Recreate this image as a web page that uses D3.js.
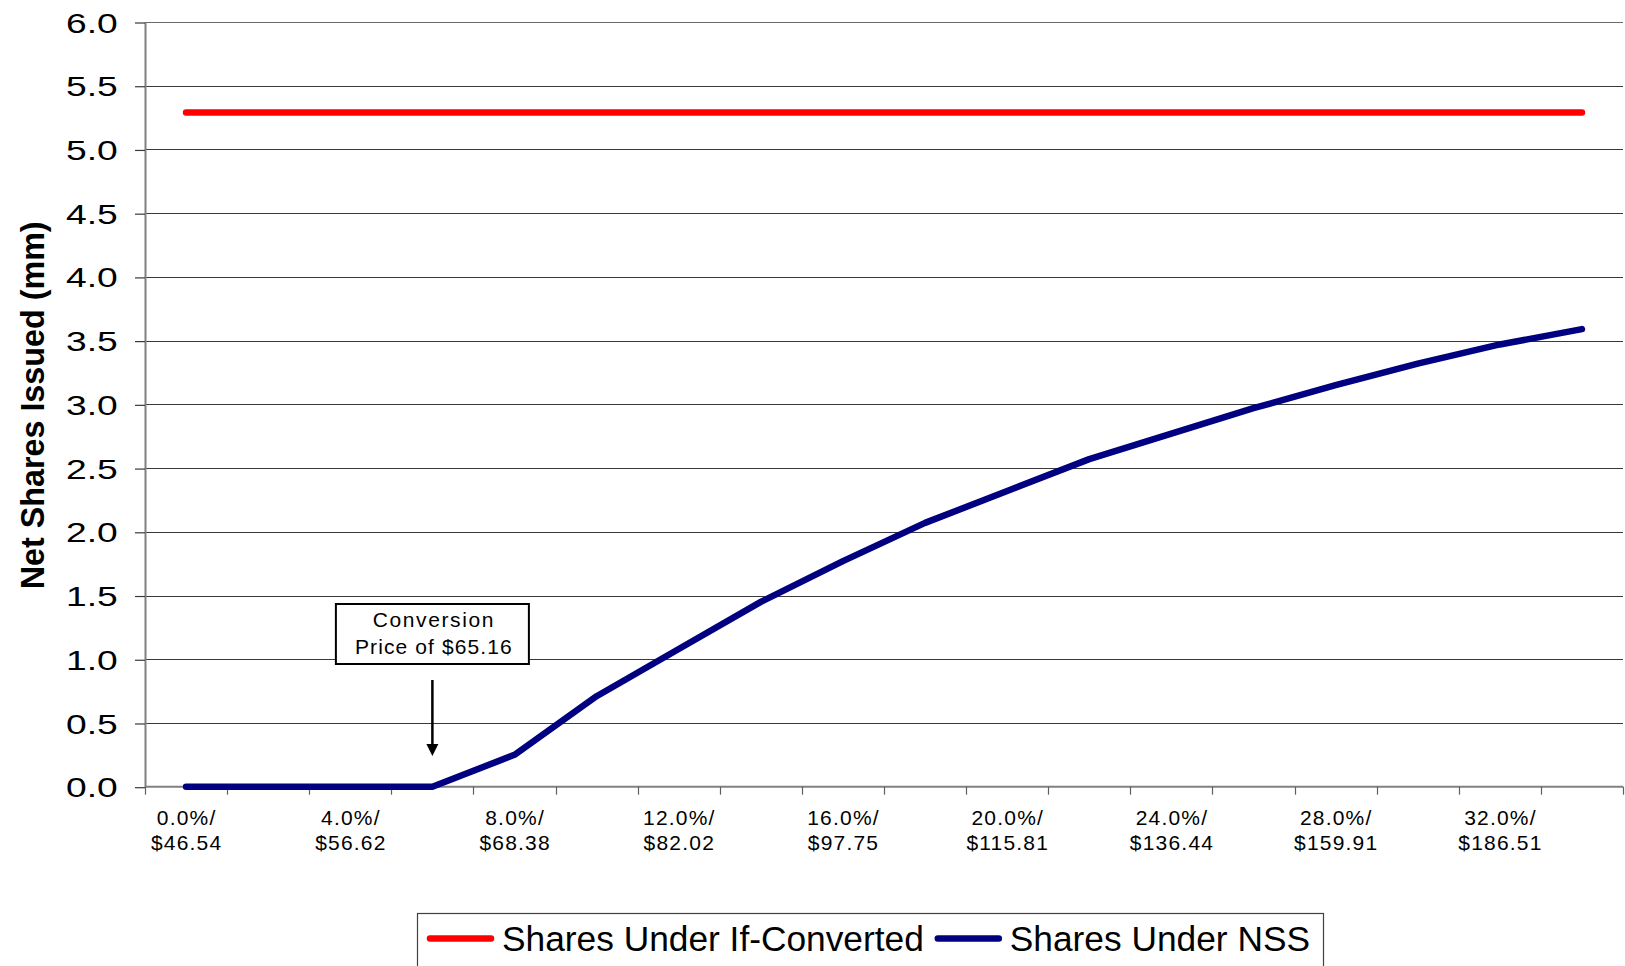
<!DOCTYPE html>
<html>
<head>
<meta charset="utf-8">
<script src="https://cdn.jsdelivr.net/npm/d3@7"></script>
<style>
  html, body { margin: 0; padding: 0; background: #fff; }
  svg { display: block; font-family: Arial, "Liberation Sans", sans-serif; }
</style>
</head>
<body>
<svg id="chart" width="1625" height="966"></svg>
<script>
// Stock price growth scenarios (percent), one category each
const growthPct = [0, 2, 4, 6, 8, 10, 12, 14, 16, 18, 20, 22, 24, 26, 28, 30, 32, 34];
// Net shares issued (mm) under each method
const ifConverted = [5.29, 5.29, 5.29, 5.29, 5.29, 5.29, 5.29, 5.29, 5.29, 5.29, 5.29, 5.29, 5.29, 5.29, 5.29, 5.29, 5.29, 5.29];
const nss = [0, 0, 0, 0, 0.25, 0.71, 1.08, 1.45, 1.77, 2.07, 2.32, 2.57, 2.77, 2.97, 3.15, 3.32, 3.47, 3.59];
// Labelled categories on the x axis (every other one)
const labeledPct = [0, 4, 8, 12, 16, 20, 24, 28, 32];
const labeledPrice = ["$46.54", "$56.62", "$68.38", "$82.02", "$97.75", "$115.81", "$136.44", "$159.91", "$186.51"];
const yTicks = [0, 0.5, 1, 1.5, 2, 2.5, 3, 3.5, 4, 4.5, 5, 5.5, 6];
const seriesNames = ["Shares Under If-Converted", "Shares Under NSS"];
const seriesColors = ["#ff0000", "#000080"];
const yTitle = "Net Shares Issued (mm)";
const noteLines = ["Conversion", "Price of $65.16"];
const notePct = 6; // scenario nearest the conversion price

const svg = d3.select("#chart");
const plot = { left: 145, right: 1623, top: 22, bottom: 786.7 };

const x = d3.scaleBand().domain(growthPct).range([plot.left, plot.right]).paddingInner(0).paddingOuter(0);
const y = d3.scaleLinear().domain([0, 6]).range([plot.bottom, plot.top]);
const cx = d => x(d) + x.bandwidth() / 2;

// horizontal gridlines
svg.append("g")
  .selectAll("line")
  .data(yTicks.filter(t => t > 0))
  .join("line")
  .attr("x1", plot.left).attr("x2", plot.right)
  .attr("y1", d => Math.round(y(d)) + 0.5).attr("y2", d => Math.round(y(d)) + 0.5)
  .attr("stroke", d => d === 6 ? "#6a6a6a" : "#3a3a3a")
  .attr("stroke-width", 1.2);

// y axis
const yAxis = svg.append("g")
  .attr("transform", `translate(${plot.left},0)`)
  .call(d3.axisLeft(y).tickValues(yTicks).tickSize(10).tickSizeOuter(0).tickFormat(d3.format(".1f")));
yAxis.select(".domain").attr("stroke", "#808080").attr("stroke-width", 2);
yAxis.selectAll(".tick line").attr("stroke", "#3a3a3a").attr("stroke-width", 1.2)
  .attr("transform", "translate(0,0.5)");
yAxis.selectAll(".tick text")
  .attr("x", -20.5)
  .attr("dy", "0.36em")
  .attr("transform", "scale(1.33,1)")
  .attr("font-size", 28)
  .attr("font-family", 'Arial, "Liberation Sans", sans-serif')
  .attr("fill", "#000");

// y axis title
svg.append("text")
  .attr("transform", `translate(43.5,${(plot.top + plot.bottom) / 2 + 1}) rotate(-90)`)
  .attr("text-anchor", "middle")
  .attr("font-weight", "bold")
  .attr("font-size", 32.3)
  .attr("fill", "#000")
  .text(yTitle);

// x axis line and boundary ticks
const xAxisG = svg.append("g");
xAxisG.append("line")
  .attr("x1", plot.left).attr("x2", plot.right)
  .attr("y1", plot.bottom).attr("y2", plot.bottom)
  .attr("stroke", "#808080").attr("stroke-width", 2);
xAxisG.selectAll("line.tk")
  .data(growthPct.map(d => x(d)).concat([plot.right]))
  .join("line").attr("class", "tk")
  .attr("x1", d => Math.round(d) + 0.5).attr("x2", d => Math.round(d) + 0.5)
  .attr("y1", plot.bottom).attr("y2", plot.bottom + 8)
  .attr("stroke", "#606060").attr("stroke-width", 1.2);

// x axis labels: growth on first line, price on second
const lbl = xAxisG.selectAll("text.lbl")
  .data(labeledPct)
  .join("text").attr("class", "lbl")
  .attr("text-anchor", "middle")
  .attr("font-size", 21)
  .attr("letter-spacing", 1.2)
  .attr("fill", "#000");
lbl.append("tspan")
  .attr("x", d => cx(d) + 0.6)
  .attr("y", plot.bottom + 38.5)
  .text(d => d.toFixed(1) + "%/");
lbl.append("tspan")
  .attr("x", d => cx(d) + 0.6)
  .attr("y", plot.bottom + 63.5)
  .text((d, i) => labeledPrice[i]);

// series lines
const series = [ifConverted, nss];
const line = d3.line().x((d, i) => cx(growthPct[i])).y(d => y(d));
svg.append("g")
  .selectAll("path")
  .data(series)
  .join("path")
  .attr("d", d => line(d))
  .attr("fill", "none")
  .attr("stroke", (d, i) => seriesColors[i])
  .attr("stroke-width", 6.5)
  .attr("stroke-linecap", "round")
  .attr("stroke-linejoin", "round");

// conversion price callout
const noteX = cx(notePct);
const note = svg.append("g");
note.append("rect")
  .attr("x", noteX - 96.5).attr("y", 604)
  .attr("width", 193).attr("height", 60)
  .attr("fill", "#fff").attr("stroke", "#000").attr("stroke-width", 2);
note.selectAll("text")
  .data(noteLines)
  .join("text")
  .attr("x", noteX + 1.5)
  .attr("y", (d, i) => 627 + i * 26.5)
  .attr("text-anchor", "middle")
  .attr("font-size", 21)
  .attr("letter-spacing", (d, i) => i === 0 ? 1.6 : 1.1)
  .attr("fill", "#000")
  .text(d => d);
note.append("line")
  .attr("x1", noteX).attr("x2", noteX)
  .attr("y1", 680).attr("y2", 746)
  .attr("stroke", "#000").attr("stroke-width", 2.5);
note.append("path")
  .attr("d", `M${noteX - 6},744 L${noteX + 6},744 L${noteX},756 Z`)
  .attr("fill", "#000");

// legend
const legend = svg.append("g");
legend.append("rect")
  .attr("x", 417.5).attr("y", 913.5)
  .attr("width", 906).attr("height", 90)
  .attr("fill", "#fff").attr("stroke", "#404040").attr("stroke-width", 1.2);
let lx = 430;
seriesNames.forEach((name, i) => {
  legend.append("line")
    .attr("x1", lx).attr("x2", lx + 61)
    .attr("y1", 938.5).attr("y2", 938.5)
    .attr("stroke", seriesColors[i]).attr("stroke-width", 6.5)
    .attr("stroke-linecap", "round");
  const t = legend.append("text")
    .attr("x", lx + 72).attr("y", 951)
    .attr("font-size", 35.3)
    .attr("fill", "#000")
    .text(name);
  lx = lx + 72 + t.node().getComputedTextLength() + 14;
});
</script>
</body>
</html>
